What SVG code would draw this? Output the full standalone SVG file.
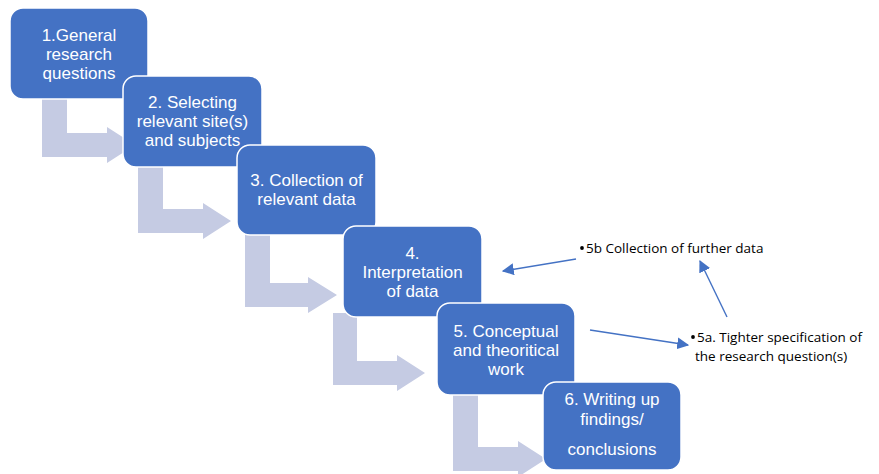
<svg xmlns="http://www.w3.org/2000/svg" width="879" height="474" viewBox="0 0 879 474">
  <defs>
    <marker id="tipL" viewBox="0 0 10 10" refX="9" refY="5" markerWidth="12" markerHeight="12" markerUnits="userSpaceOnUse" orient="auto">
      <path d="M0,0 L10,5 L0,10 Z" fill="#4472C4"/>
    </marker>
  </defs>
  <style>
    .step { fill: #4472C4; stroke: #ffffff; stroke-width: 1.5; }
    .label { fill: #ffffff; font-family: "Liberation Sans", Arial, sans-serif; font-size: 17px; text-anchor: middle; }
    .bend { fill: #C5CBE3; }
    .link { stroke: #4472C4; stroke-width: 1.4; fill: none; }
    .note { fill: #000000; font-family: "Open Sans", "Liberation Sans", sans-serif; font-size: 13.5px; }
  </style>
  <rect width="879" height="474" fill="#ffffff"/>

  <!-- bent arrows leading from each step to the next, plus the feedback links -->
  <g id="connectors">
    <path class="bend" d="M42,95 V157 H107 V163 L135,145 L107,127 V133 H67 V95 Z"/>
    <path class="bend" d="M138,163 V233 H203 V239 L231,221 L203,203 V209 H163 V163 Z"/>
    <path class="bend" d="M245,231 V307 H308 V313 L337,295 L308,277 V283 H270 V231 Z"/>
    <path class="bend" d="M333,313 V385 H397 V391 L425,373 L397,355 V361 H357 V313 Z"/>
    <path class="bend" d="M453,391 V471 H518 V477 L546,459 L518,441 V447 H478 V391 Z"/>
    <line class="link" x1="576" y1="259" x2="503" y2="271" marker-end="url(#tipL)"/>
    <line class="link" x1="590" y1="330" x2="688" y2="345" marker-end="url(#tipL)"/>
    <line class="link" x1="727" y1="317" x2="700" y2="261" marker-end="url(#tipL)"/>
  </g>

  <g id="step1">
    <rect class="step" x="10" y="8" width="138" height="91" rx="13"/>
    <text class="label" x="79" y="41">1.General</text>
    <text class="label" x="79" y="60">research</text>
    <text class="label" x="79" y="79">questions</text>
  </g>
  <g id="step2">
    <rect class="step" x="123" y="76" width="139" height="91" rx="13"/>
    <text class="label" x="192.5" y="108">2. Selecting</text>
    <text class="label" x="192.5" y="127">relevant site(s)</text>
    <text class="label" x="192.5" y="146">and subjects</text>
  </g>
  <g id="step3">
    <rect class="step" x="237" y="145" width="139" height="90" rx="13"/>
    <text class="label" x="306.5" y="186">3. Collection of</text>
    <text class="label" x="306.5" y="205">relevant data</text>
  </g>
  <g id="step4">
    <rect class="step" x="343" y="226" width="139" height="91" rx="13"/>
    <text class="label" x="412.5" y="259">4.</text>
    <text class="label" x="412.5" y="278">Interpretation</text>
    <text class="label" x="412.5" y="297">of data</text>
  </g>
  <g id="step5">
    <rect class="step" x="437" y="303" width="138" height="92" rx="13"/>
    <text class="label" x="506" y="337">5. Conceptual</text>
    <text class="label" x="506" y="356">and theoritical</text>
    <text class="label" x="506" y="375">work</text>
  </g>
  <g id="step6">
    <rect class="step" x="543" y="382" width="138" height="88" rx="13"/>
    <text class="label" x="612" y="405">6. Writing up</text>
    <text class="label" x="612" y="425">findings/</text>
    <text class="label" x="612" y="455">conclusions</text>
  </g>

  <g id="note5b">
    <circle cx="582" cy="248" r="1.9" fill="#000000"/>
    <text class="note" x="586" y="253">5b Collection of further data</text>
  </g>
  <g id="note5a">
    <circle cx="693" cy="337" r="1.9" fill="#000000"/>
    <text class="note" x="697" y="342">5a. Tighter specification of</text>
    <text class="note" x="695" y="361">the research question(s)</text>
  </g>
</svg>
